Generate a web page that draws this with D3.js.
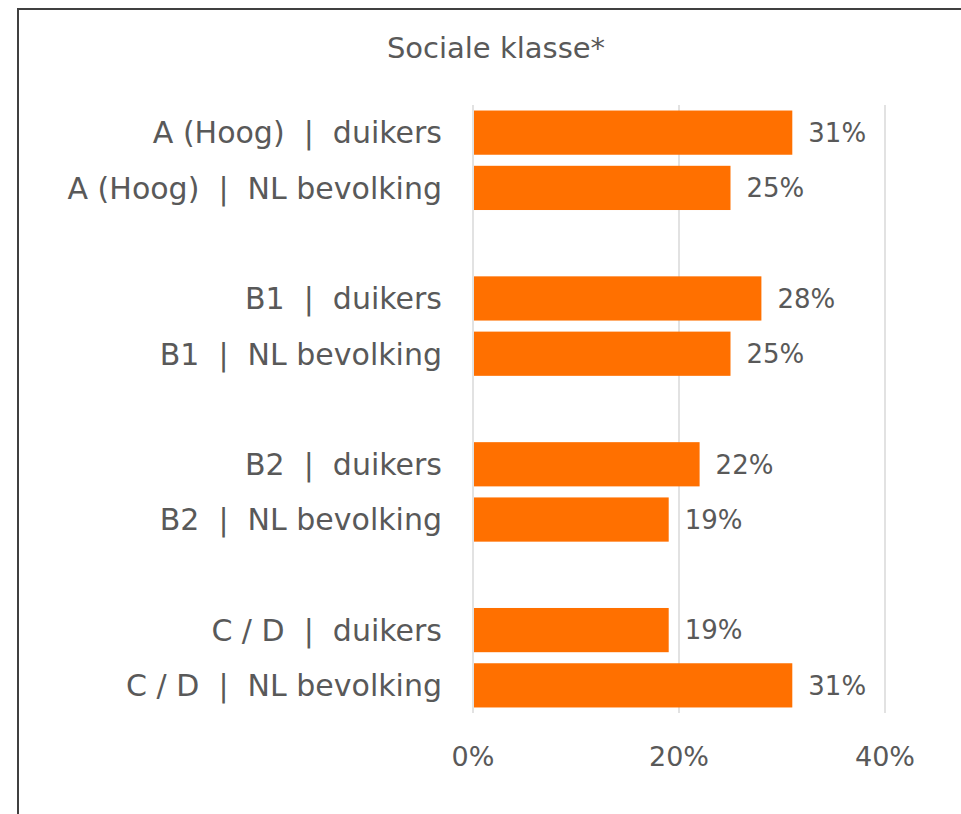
<html>
<head>
<script src="https://d3js.org/d3.v7.min.js"></script>
<style>
body { margin: 0; background: #fff; }
svg text { font-family: "DejaVu Sans", sans-serif; fill: #595959; white-space: pre; }
</style>
</head>
<body>
<div id="plot"></div>
<script>

var width = 961;
var height = 814;

// Data
var groups = ["A (Hoog)", "B1", "B2", "C / D"];
var series = ["duikers", "NL bevolking"];
var duikers = [31, 28, 22, 19];
var nlBevolking = [25, 25, 19, 31];
var tickValues = [0, 20, 40];

// Build rows, with an empty row between groups (like the original)
var rows = [];
groups.forEach(function (g, i) {
  if (i > 0) { rows.push({ key: "gap" + i, label: "", value: null }); }
  rows.push({ key: g + "|d", label: g + "  |  " + series[0], value: duikers[i] });
  rows.push({ key: g + "|n", label: g + "  |  " + series[1], value: nlBevolking[i] });
});

var svg = d3.select("#plot").append("svg")
  .attr("width", width).attr("height", height);

// frame of the chart area, which runs off the right and bottom edge
svg.append("path")
  .attr("d", "M18,814 L18,9 L961,9")
  .style("fill", "none").style("stroke", "#404040").style("stroke-width", 2);

var xScale = d3.scaleLinear().domain([0, 40]).range([473, 885]);
var yScale = d3.scaleBand().domain(rows.map(function (d) { return d.key; }))
  .range([105, 713]).paddingInner(0.2).paddingOuter(0.1);

// gridlines
svg.selectAll("line.grid")
  .data(tickValues).enter().append("line")
  .attr("class", "grid")
  .attr("x1", xScale).attr("x2", xScale)
  .attr("y1", 105).attr("y2", 713)
  .style("stroke", "#d9d9d9").style("stroke-width", 1.5);

// x axis labels
svg.selectAll("text.tick")
  .data(tickValues).enter().append("text")
  .attr("class", "tick")
  .attr("x", xScale).attr("y", 766)
  .attr("text-anchor", "middle")
  .style("font-size", "27px")
  .text(function (d) { return d + "%"; });

var dataRows = rows.filter(function (d) { return d.value !== null; });

// bars
svg.selectAll("rect.bar")
  .data(dataRows).enter().append("rect")
  .attr("class", "bar")
  .attr("x", xScale(0) + 1)
  .attr("y", function (d) { return yScale(d.key); })
  .attr("width", function (d) { return xScale(d.value) - xScale(0) - 1; })
  .attr("height", yScale.bandwidth())
  .style("fill", "#ff7000");

// value labels
svg.selectAll("text.value")
  .data(dataRows).enter().append("text")
  .attr("class", "value")
  .attr("x", function (d) { return xScale(d.value) + 16; })
  .attr("y", function (d) { return yScale(d.key) + yScale.bandwidth() / 2; })
  .attr("dy", "0.36em")
  .style("font-size", "26px")
  .text(function (d) { return d.value + "%"; });

// category labels
svg.selectAll("text.cat")
  .data(dataRows).enter().append("text")
  .attr("class", "cat")
  .attr("x", 442)
  .attr("y", function (d) { return yScale(d.key) + yScale.bandwidth() / 2; })
  .attr("dy", "0.36em")
  .attr("text-anchor", "end")
  .style("font-size", "30px")
  .text(function (d) { return d.label; });

// title
svg.append("text")
  .attr("x", 496).attr("y", 58)
  .attr("text-anchor", "middle")
  .style("font-size", "29px")
  .text("Sociale klasse*");

</script>
</body>
</html>
